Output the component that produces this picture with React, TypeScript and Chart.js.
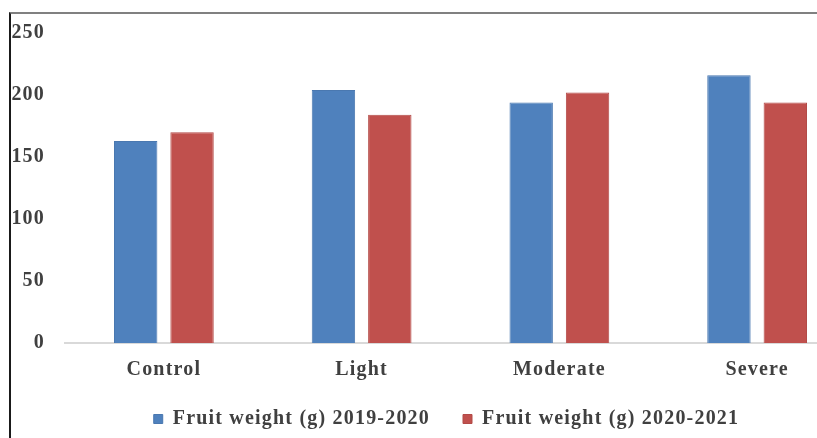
import React, { useEffect, useRef } from "react";
import { Chart, registerables } from "chart.js";

Chart.register(...registerables);

const categories = ["Control", "Light", "Moderate", "Severe"];
const season1Label = "Fruit weight (g) 2019-2020";
const season2Label = "Fruit weight (g) 2020-2021";
const season1Values = [163, 204, 194, 216];
const season2Values = [170, 184, 202, 194];
const yTicks = [0, 50, 100, 150, 200, 250];

const FONT = "'Liberation Serif', 'Times New Roman', serif";
const TEXT = "#404040";
const SPACING = "1.2px";

// Slightly tracked-out text for every label the chart draws
const letterSpacingPlugin = {
  id: "letterSpacing",
  beforeLayout(chart: any) {
    (chart.ctx as any).letterSpacing = SPACING;
  },
  beforeDraw(chart: any) {
    (chart.ctx as any).letterSpacing = SPACING;
  },
};

// Nudge the legend row so it sits centred under the whole frame, a bit higher
const legendShiftPlugin = {
  id: "legendShift",
  afterLayout(chart: any) {
    const lg = chart.legend;
    if (!lg) return;
    lg.left += 13;
    lg.right += 13;
    lg.top -= 7;
    lg.bottom -= 7;
    if (typeof lg.adjustHitBoxes === "function") lg.adjustHitBoxes();
  },
};

export default function App() {
  const ref = useRef<HTMLCanvasElement | null>(null);

  useEffect(() => {
    if (!ref.current) return;
    const chart = new Chart(ref.current, {
      type: "bar",
      data: {
        labels: categories,
        datasets: [
          {
            label: season1Label,
            data: season1Values,
            backgroundColor: "#4f81bd",
            borderColor: "#4a78b0",
            borderWidth: 1,
            categoryPercentage: 0.57,
            barPercentage: 0.77,
          },
          {
            label: season2Label,
            data: season2Values,
            backgroundColor: "#c0504d",
            borderColor: "#b34a47",
            borderWidth: 1,
            categoryPercentage: 0.57,
            barPercentage: 0.77,
          },
        ],
      },
      options: {
        responsive: false,
        animation: false,
        layout: { padding: { top: 7, right: 20, left: 0, bottom: 0 } },
        plugins: {
          tooltip: { enabled: false },
          legend: {
            position: "bottom",
            labels: {
              boxWidth: 9,
              boxHeight: 9,
              padding: 33,
              color: TEXT,
              font: { family: FONT, size: 20, weight: "bold" },
            },
          },
        },
        scales: {
          x: {
            grid: { display: false, drawTicks: false },
            border: { display: true, color: "#d9d9d9", width: 2 },
            ticks: { padding: 15, color: TEXT, font: { family: FONT, size: 20, weight: "bold" } },
            afterFit: (axis: any) => {
              axis.height = 40;
            },
          },
          y: {
            min: 0,
            max: 250,
            afterBuildTicks: (axis: any) => {
              axis.ticks = yTicks.map((v) => ({ value: v }));
            },
            grid: { display: false, drawTicks: false },
            border: { display: false },
            ticks: { padding: 20, color: TEXT, font: { family: FONT, size: 20, weight: "bold" } },
            afterFit: (axis: any) => {
              axis.width = 54;
            },
          },
        },
      },
      plugins: [letterSpacingPlugin, legendShiftPlugin],
    });
    return () => chart.destroy();
  }, []);

  return (
    <div style={{ position: "absolute", left: 0, top: 0, width: 817, height: 438, overflow: "hidden", background: "#fff" }}>
      <div
        style={{
          position: "absolute",
          left: 9,
          top: 12,
          width: 880,
          height: 440,
          borderLeft: "2px solid #1a1a1a",
          borderTop: "2px solid #808080",
        }}
      />
      <canvas
        ref={ref}
        width={865}
        height={445}
        style={{ display: "block", position: "absolute", left: 11, top: 1 }}
      />
    </div>
  );
}
